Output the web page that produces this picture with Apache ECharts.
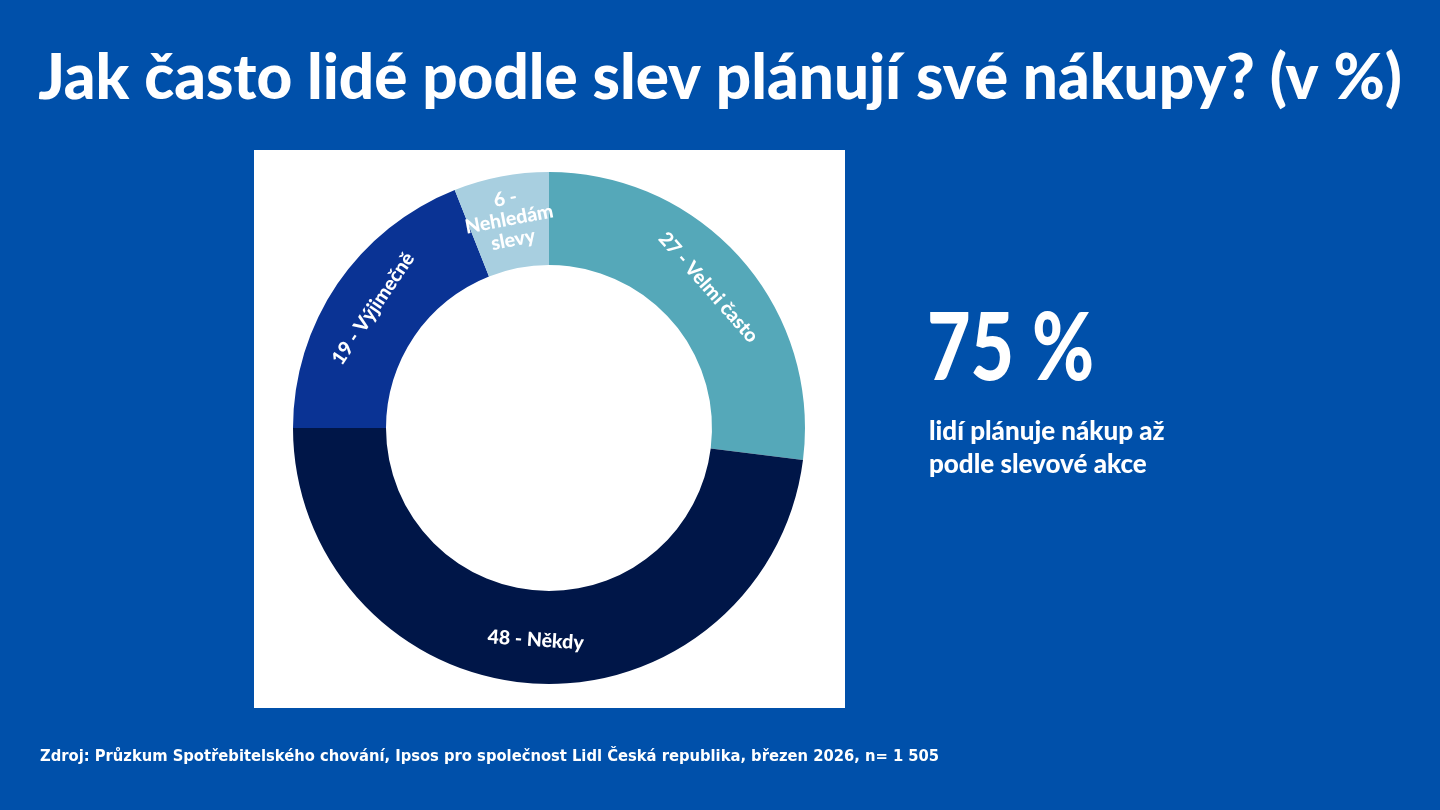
<!DOCTYPE html>
<html>
<head>
<meta charset="utf-8">
<script src="https://cdn.jsdelivr.net/npm/echarts@6/dist/echarts.min.js"></script>
<style>
html,body{margin:0;padding:0;background:#0050aa;}
#c{width:1440px;height:810px;}
</style>
</head>
<body>
<div id="c"></div>
<script>
const categories = ['Velmi často', 'Někdy', 'Výjimečně', 'Nehledám slevy'];
const values = [27, 48, 19, 6];
const titleText = 'Jak často lidé podle slev plánují své nákupy? (v %)';
const bigNumber = '75 %';
const bigNumberText = ['lidí plánuje nákup až', 'podle slevové akce'];
const sourceText = 'Zdroj: Průzkum Spotřebitelského chování, Ipsos pro společnost Lidl Česká republika, březen 2026, n= 1 505';

const sliceColors = ['#55a8b9', '#001648', '#0a3394', '#a8cfe0'];
const FONT = 'Lato';

const chart = echarts.init(document.getElementById('c'), null, {renderer: 'canvas'});
chart.setOption({
  backgroundColor: '#0050aa',
  animation: false,
  graphic: [
    {type: 'rect', left: 254, top: 150, shape: {width: 591, height: 558}, style: {fill: '#ffffff'}, z: -1},
    {type: 'text', left: 'center', top: 48, style: {text: titleText, fill: '#fff', font: '900 62px ' + FONT}},
    {type: 'text', x: 927, y: 303, scaleX: 0.8, style: {text: bigNumber, fill: '#fff', font: '900 94px ' + FONT}},
    {type: 'text', x: 929, y: 415, style: {text: bigNumberText.join('\n'), fill: '#fff', font: '900 26px ' + FONT, lineHeight: 33}},
    {type: 'text', left: 40, top: 749, style: {text: sourceText, fill: '#fff', font: 'bold 16.4px "DejaVu Sans Condensed"'}}
  ],
  series: [{
    type: 'pie',
    center: [549, 428],
    radius: [163, 256],
    startAngle: 90,
    clockwise: true,
    avoidLabelOverlap: false,
    emphasis: {disabled: true},
    label: {
      show: true,
      position: 'inside',
      rotate: 'tangential',
      color: '#fff',
      fontFamily: FONT,
      fontWeight: 900,
      fontSize: 19.5,
      lineHeight: 21,
      formatter: p => p.value < 10 ? p.value + ' -\n' + p.name.replace(' ', '\n') : p.value + ' - ' + p.name
    },
    labelLine: {show: false},
    data: categories.map((n, i) => ({name: n, value: values[i], itemStyle: {color: sliceColors[i]}}))
  }]
});
</script>
</body>
</html>
